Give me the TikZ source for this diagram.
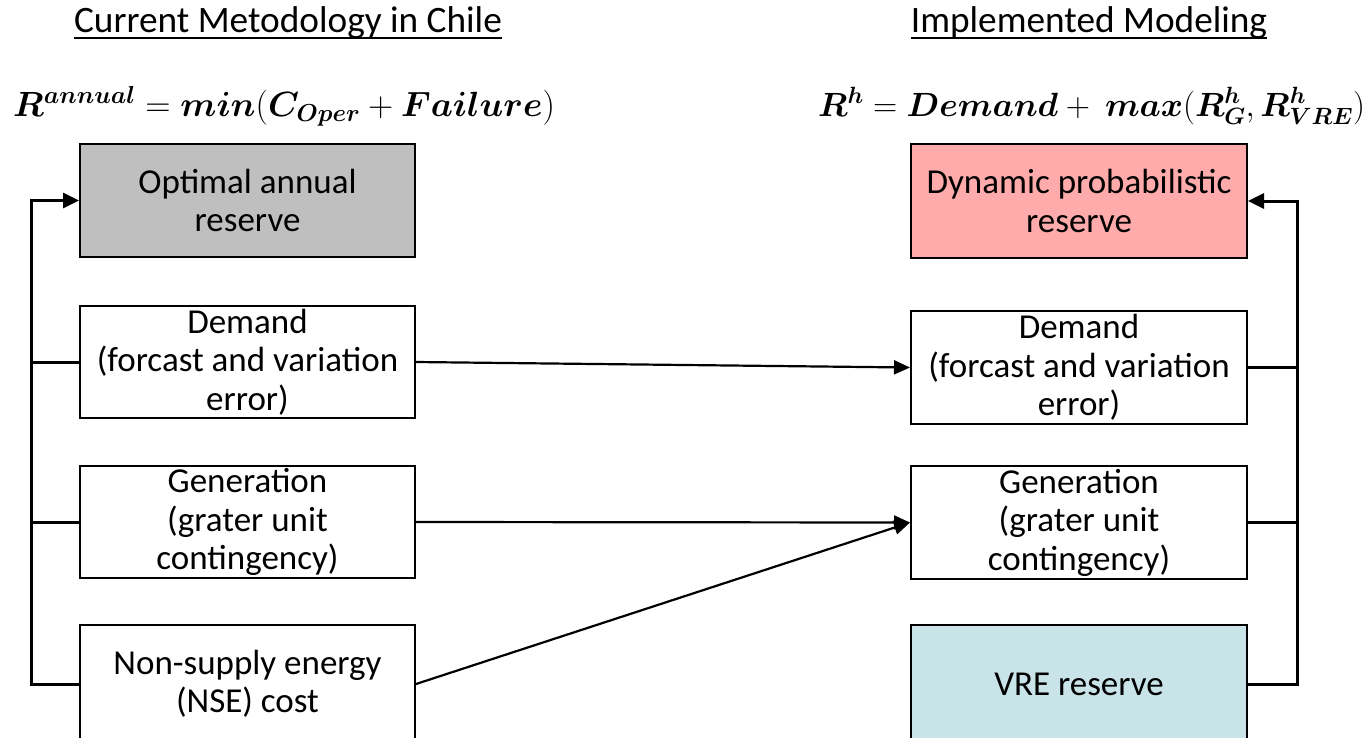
\RequirePackage{fix-cm}
\documentclass[tikz,border=0pt]{standalone}
\usepackage{amsmath,bm}
\usepackage{fontspec}
\setmainfont{Carlito}
\usetikzlibrary{arrows.meta}
\definecolor{boxgray}{RGB}{191,191,191}
\definecolor{boxpink}{RGB}{255,171,171}
\definecolor{boxblue}{RGB}{201,228,232}
\newcommand\ttlul[1]{\setbox0\hbox{#1}\rlap{\rule[-7pt]{\wd0}{2.2pt}}\box0}
\newcommand\bxfont{\fontsize{35}{38.5}\selectfont}
\newcommand\ttlfont{\fontsize{37.3}{42}\selectfont}
\newcommand\eqfontL{\fontsize{35}{40}\selectfont}
\newcommand\eqfontR{\fontsize{33.6}{40}\selectfont}
\begin{document}
\begin{tikzpicture}[x=1pt,y=-1pt,
  box/.style={draw=black,line width=2pt,minimum width=335pt,align=center,inner sep=0pt,font=\bxfont},
  conn/.style={line width=3pt},
  arr/.style={line width=3pt,-{Triangle[length=16pt,width=15pt]}},
  midarr/.style={line width=2.2pt,-{Triangle[length=16pt,width=14pt]}}]
\useasboundingbox (0,0) rectangle (1372,737);
\clip (0,0) rectangle (1372,737);
% titles
\node[font=\ttlfont,anchor=base,inner sep=0pt] (t1) at (288,32) {\ttlul{Current Metodology in Chile}};
\node[font=\ttlfont,anchor=base,inner sep=0pt] (t2) at (1089,32) {\ttlul{Implemented Modeling}};
% formulas
\node[font=\eqfontL,anchor=base west,inner sep=0pt] (f1) at (13,116)
  {$\bm{R^{annual}} = \bm{min}(\bm{C_{Oper}} + \bm{Failure})$};
\node[font=\eqfontR,anchor=base west,inner sep=0pt] (f2) at (818,116)
  {$\bm{R^{h}} = \bm{Demand} +\ \bm{max}(\bm{R^{h}_{G}}, \bm{R^{h}_{VRE}})$};
% left boxes
\node[box,fill=boxgray,minimum height=113pt] (opt) at (247.5,200.5) {Optimal annual\\reserve};
\node[box,fill=white,minimum height=112pt] (dem1) at (247.5,362) {Demand\\(forcast and variation\\error)};
\node[box,fill=white,minimum height=112pt] (gen1) at (247.5,522) {Generation\\(grater unit\\contingency)};
\node[box,fill=white,minimum height=118pt] (nse) at (247.5,684) {Non-supply energy\\(NSE) cost};
% right boxes
\node[box,fill=boxpink,minimum height=114pt,minimum width=336pt] (dyn) at (1079,201) {Dynamic probabilistic\\reserve};
\node[box,fill=white,minimum height=113pt,minimum width=336pt] (dem2) at (1079,367.5) {Demand\\(forcast and variation\\error)};
\node[box,fill=white,minimum height=113pt,minimum width=336pt] (gen2) at (1079,522.5) {Generation\\(grater unit\\contingency)};
\node[box,fill=boxblue,minimum height=118pt,minimum width=336pt] (vre) at (1079,684) {VRE reserve};
% left bus
\draw[conn] (dem1.west) -- ++(-48,0);
\draw[conn] (gen1.west) -- ++(-48,0);
\draw[arr] (nse.west) -- ++(-48,0) |- (opt.west);
% right bus
\draw[conn] (dem2.east) -- ++(49,0);
\draw[conn] (gen2.east) -- ++(49,0);
\draw[arr] (vre.east) -- ++(49,0) |- (dyn.east);
% middle arrows
\draw[midarr] (dem1.east) -- (dem2.west);
\draw[midarr] (gen1.east) -- (gen2.west);
\draw[midarr] (nse.east) -- (gen2.west);
\end{tikzpicture}
\end{document}
